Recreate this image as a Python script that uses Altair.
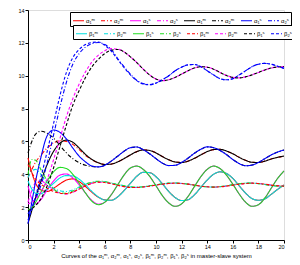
import altair as alt
import pandas as pd

X = [0, 0.3, 0.6, 1, 1.5, 2, 2.5, 3, 3.5, 4, 4.5, 5, 5.5, 6, 6.5, 7, 7.5, 8, 8.5, 9, 9.5,
     10, 10.5, 11, 11.5, 12, 12.5, 13, 13.5, 14, 14.5, 15, 15.5, 16, 16.5, 17, 17.5, 18,
     18.5, 19, 19.5, 20]

# alpha curves (legend row 1)
a1_red_solid = [5.0, 4.1, 3.45, 3.05, 2.95, 3.15, 3.42, 3.65, 3.72, 3.55, 3.25, 2.9, 2.6, 2.45, 2.42,
                2.62, 3.0, 3.45, 3.88, 4.12, 4.1, 3.85, 3.42, 2.95, 2.58, 2.4, 2.45, 2.75, 3.2, 3.65,
                4.0, 4.15, 4.05, 3.75, 3.3, 2.85, 2.52, 2.42, 2.5, 2.78, 3.08, 3.35]
a2_red_dashdot = [3.8, 4.3, 4.75, 5.15, 5.6, 5.9, 6.05, 6.0, 5.82, 5.5, 5.15, 4.88, 4.7, 4.6, 4.62,
                  4.75, 4.95, 5.18, 5.38, 5.48, 5.45, 5.3, 5.08, 4.88, 4.75, 4.72, 4.8, 4.97, 5.18,
                  5.38, 5.5, 5.52, 5.42, 5.25, 5.03, 4.85, 4.73, 4.72, 4.8, 4.93, 5.03, 5.11]
a3_magenta_solid = [3.3, 2.5, 2.2, 2.45, 3.05, 3.6, 3.95, 4.02, 3.78, 3.35, 2.85, 2.4, 2.18, 2.3, 2.75,
                    3.35, 3.95, 4.38, 4.5, 4.3, 3.88, 3.3, 2.7, 2.25, 2.05, 2.2, 2.65, 3.25, 3.85,
                    4.3, 4.5, 4.35, 3.95, 3.4, 2.8, 2.3, 2.05, 2.15, 2.55, 3.15, 3.75, 4.2]
a4_magenta_dashdot = [2.3, 3.0, 3.5, 3.6, 3.35, 3.05, 2.85, 2.8, 2.9, 3.1, 3.3, 3.45, 3.52, 3.5, 3.43,
                      3.33, 3.25, 3.2, 3.2, 3.23, 3.28, 3.34, 3.4, 3.44, 3.46, 3.44, 3.4, 3.34, 3.28,
                      3.24, 3.22, 3.24, 3.28, 3.34, 3.4, 3.44, 3.46, 3.44, 3.4, 3.34, 3.3, 3.28]
a5_black_solid = [1.0, 1.8, 2.6, 3.55, 4.6, 5.4, 5.9, 6.08, 5.95, 5.6, 5.2, 4.9, 4.7, 4.6, 4.62,
                  4.75, 4.95, 5.18, 5.38, 5.48, 5.45, 5.3, 5.08, 4.88, 4.75, 4.72, 4.8, 4.97, 5.18,
                  5.38, 5.5, 5.52, 5.42, 5.25, 5.03, 4.85, 4.73, 4.72, 4.8, 4.93, 5.03, 5.11]
a6_black_dashdot = [5.3, 6.0, 6.45, 6.62, 6.5, 6.2, 5.75, 5.3, 4.95, 4.7, 4.55, 4.47, 4.45, 4.55, 4.8,
                    5.1, 5.4, 5.62, 5.66, 5.5, 5.25, 4.95, 4.68, 4.53, 4.55, 4.72, 4.98, 5.28, 5.52,
                    5.67, 5.62, 5.45, 5.2, 4.9, 4.65, 4.52, 4.56, 4.72, 4.95, 5.18, 5.35, 5.48]
a7_blue_solid = [1.0, 2.3, 3.6, 5.0, 6.35, 6.7, 6.55, 6.15, 5.6, 5.1, 4.75, 4.5, 4.45, 4.55, 4.8,
                 5.1, 5.4, 5.62, 5.66, 5.5, 5.25, 4.95, 4.68, 4.53, 4.55, 4.72, 4.98, 5.28, 5.52,
                 5.67, 5.62, 5.45, 5.2, 4.9, 4.65, 4.52, 4.56, 4.72, 4.95, 5.18, 5.35, 5.48]
a8_blue_dashdot = [1.6, 2.0, 2.5, 3.3, 4.7, 6.4, 8.1, 9.6, 10.7, 11.35, 11.75, 11.95, 12.02, 11.9, 11.6,
                   11.05, 10.55, 10.1, 9.72, 9.52, 9.46, 9.55, 9.75, 10.0, 10.3, 10.52, 10.66, 10.68,
                   10.55, 10.3, 10.05, 9.82, 9.75, 9.82, 10.05, 10.3, 10.55, 10.7, 10.75, 10.7, 10.58, 10.45]

# beta curves (legend row 2)
b1_cyan_solid = [3.6, 3.1, 2.85, 2.82, 3.1, 3.45, 3.78, 3.92, 3.9, 3.7, 3.35, 2.95, 2.62, 2.43, 2.42,
                 2.62, 3.0, 3.45, 3.88, 4.12, 4.1, 3.85, 3.42, 2.95, 2.58, 2.4, 2.45, 2.75, 3.2, 3.65,
                 4.0, 4.15, 4.05, 3.75, 3.3, 2.85, 2.52, 2.42, 2.5, 2.78, 3.08, 3.35]
b2_cyan_dashdot = [3.8, 4.2, 4.3, 4.0, 3.5, 3.15, 3.0, 2.95, 3.05, 3.22, 3.4, 3.5, 3.56, 3.55, 3.47,
                   3.38, 3.3, 3.24, 3.22, 3.24, 3.3, 3.36, 3.42, 3.46, 3.47, 3.45, 3.4, 3.33, 3.27,
                   3.23, 3.22, 3.25, 3.3, 3.37, 3.42, 3.46, 3.46, 3.43, 3.38, 3.32, 3.28, 3.26]
b3_green_solid = [1.85, 1.95, 2.3, 2.9, 3.6, 4.15, 4.42, 4.35, 4.0, 3.45, 2.85, 2.35, 2.15, 2.3, 2.75,
                  3.35, 3.95, 4.38, 4.5, 4.3, 3.88, 3.3, 2.7, 2.25, 2.05, 2.2, 2.65, 3.25, 3.85,
                  4.3, 4.5, 4.35, 3.95, 3.4, 2.8, 2.3, 2.05, 2.15, 2.55, 3.15, 3.75, 4.2]
b4_green_dashdot = [4.0, 4.9, 4.85, 4.3, 3.6, 3.1, 2.88, 2.85, 2.98, 3.2, 3.4, 3.52, 3.58, 3.55, 3.47,
                    3.38, 3.3, 3.24, 3.22, 3.24, 3.3, 3.36, 3.42, 3.46, 3.47, 3.45, 3.4, 3.33, 3.27,
                    3.23, 3.22, 3.25, 3.3, 3.37, 3.42, 3.46, 3.46, 3.43, 3.38, 3.32, 3.28, 3.26]
b5_red_dashed = [4.6, 4.1, 3.7, 3.4, 3.15, 2.95, 2.85, 2.82, 2.92, 3.1, 3.3, 3.45, 3.52, 3.5, 3.43,
                 3.33, 3.25, 3.2, 3.2, 3.23, 3.28, 3.34, 3.4, 3.44, 3.46, 3.44, 3.4, 3.34, 3.28,
                 3.24, 3.22, 3.24, 3.28, 3.34, 3.4, 3.44, 3.46, 3.44, 3.4, 3.34, 3.3, 3.28]
b6_magenta_dashed = [2.2, 2.3, 2.5, 2.9, 3.7, 4.9, 6.2, 7.5, 8.6, 9.5, 10.25, 10.85, 11.25, 11.52, 11.65,
                     11.62, 11.45, 11.15, 10.8, 10.4, 10.05, 9.8, 9.7, 9.75, 9.9, 10.1, 10.3, 10.47,
                     10.55, 10.52, 10.4, 10.2, 10.02, 9.9, 9.87, 9.93, 10.05, 10.2, 10.35, 10.47, 10.53, 10.56]
b7_black_dashed = [1.8, 1.9, 2.1, 2.5, 3.3, 4.4, 5.7, 7.0, 8.2, 9.1, 9.9, 10.55, 11.0, 11.35, 11.55,
                   11.6, 11.45, 11.15, 10.8, 10.4, 10.05, 9.8, 9.7, 9.75, 9.9, 10.1, 10.3, 10.47,
                   10.55, 10.52, 10.4, 10.2, 10.02, 9.9, 9.87, 9.93, 10.05, 10.2, 10.35, 10.47, 10.53, 10.56]
b8_blue_dashed = [1.2, 1.9, 2.7, 3.8, 5.4, 7.1, 8.8, 10.2, 11.1, 11.6, 11.9, 12.02, 12.05, 11.85, 11.5,
                  11.0, 10.5, 10.05, 9.7, 9.5, 9.45, 9.55, 9.75, 10.0, 10.3, 10.52, 10.66, 10.68,
                  10.55, 10.3, 10.05, 9.82, 9.75, 9.82, 10.05, 10.3, 10.55, 10.7, 10.75, 10.7, 10.58, 10.45]

alpha_keys = ["a1", "a2", "a3", "a4", "a5", "a6", "a7", "a8"]
alpha_series = [a1_red_solid, a2_red_dashdot, a3_magenta_solid, a4_magenta_dashdot,
                a5_black_solid, a6_black_dashdot, a7_blue_solid, a8_blue_dashdot]
alpha_labels = ["α₁ᵐ", "α₂ᵐ", "α₁ˢ", "α₂ˢ", "α₁ᵐ", "α₂ᵐ", "α₁ˢ", "α₂ˢ"]
beta_keys = ["b1", "b2", "b3", "b4", "b5", "b6", "b7", "b8"]
beta_series = [b1_cyan_solid, b2_cyan_dashdot, b3_green_solid, b4_green_dashdot,
               b5_red_dashed, b6_magenta_dashed, b7_black_dashed, b8_blue_dashed]
beta_labels = ["β₁ᵐ", "β₂ᵐ", "β₁ˢ", "β₂ˢ", "β₁ᵐ", "β₂ᵐ", "β₁ˢ", "β₂ˢ"]

RED, MAG, BLK, BLU, CYA, GRN = "#ff0000", "#ff00ff", "#000000", "#0000ff", "#00e0e0", "#22dd22"
SOLID, DASHDOT, DASHED = [1, 0], [4, 2, 1, 2], [3, 2]
alpha_colors = [RED, RED, MAG, MAG, BLK, BLK, BLU, BLU]
alpha_dashes = [SOLID, DASHDOT, SOLID, DASHDOT, SOLID, DASHDOT, SOLID, DASHDOT]
beta_colors = [CYA, CYA, GRN, GRN, RED, MAG, BLK, BLU]
beta_dashes = [SOLID, DASHDOT, SOLID, DASHDOT, DASHED, DASHED, DASHED, DASHED]


def long(keys, series, field):
    rows = []
    for k, s in zip(keys, series):
        for i, (x, y) in enumerate(zip(X, s)):
            rows.append({"x": x, "y": y, field: k, "order": i})
    return pd.DataFrame(rows)


da = long(alpha_keys, alpha_series, "ka")
db = long(beta_keys, beta_series, "kb")

FONT = "Liberation Sans"
caption = "Curves of the α₁ᵐ, α₂ᵐ, α₁ˢ, α₂ˢ, β₁ᵐ, β₂ᵐ, β₁ˢ, β₂ˢ in master-slave system"

xenc = alt.X("x:Q", scale=alt.Scale(domain=[0, 20], nice=False),
             axis=alt.Axis(values=list(range(0, 21, 2)), title=caption, grid=False,
                           labelFontSize=5.5, titleFontSize=6, titleFontWeight="normal",
                           titlePadding=3, tickSize=3, labelPadding=1, domainColor="black",
                           tickColor="black", labelColor="black", titleColor="black"))
yenc = alt.Y("y:Q", scale=alt.Scale(domain=[0, 14], nice=False),
             axis=alt.Axis(values=list(range(0, 15, 2)), title=None, grid=False,
                           labelFontSize=5.5, tickSize=3, labelPadding=1, domainColor="black",
                           tickColor="black", labelColor="black"))


def label_expr(keys, labels):
    ks = "[" + ",".join("'%s'" % k for k in keys) + "]"
    ls = "[" + ",".join("'%s'" % l for l in labels) + "]"
    return "%s[indexof(%s, datum.label)]" % (ls, ks)


def legend(keys, labels, lx, ly):
    return alt.Legend(orient="none", legendX=lx, legendY=ly, direction="horizontal",
                      columns=8, title=None, symbolType="stroke", symbolSize=121,
                      symbolStrokeWidth=1.2, labelFontSize=6, labelOffset=1,
                      columnPadding=3, rowPadding=0, padding=2, strokeColor="black",
                      fillColor="white", labelExpr=label_expr(keys, labels))


la = alt.Chart(da).mark_line(strokeWidth=1.1, interpolate="monotone").encode(
    x=xenc, y=yenc, order="order:Q",
    color=alt.Color("ka:N", scale=alt.Scale(domain=alpha_keys, range=alpha_colors),
                    legend=legend(alpha_keys, alpha_labels, 42, 2)),
    strokeDash=alt.StrokeDash("ka:N", scale=alt.Scale(domain=alpha_keys, range=alpha_dashes),
                              legend=legend(alpha_keys, alpha_labels, 42, 2)),
)
lb = alt.Chart(db).mark_line(strokeWidth=1.1, interpolate="monotone").encode(
    x=xenc, y=yenc, order="order:Q",
    color=alt.Color("kb:N", scale=alt.Scale(domain=beta_keys, range=beta_colors),
                    legend=legend(beta_keys, beta_labels, 45, 15)),
    strokeDash=alt.StrokeDash("kb:N", scale=alt.Scale(domain=beta_keys, range=beta_dashes),
                              legend=legend(beta_keys, beta_labels, 45, 15)),
)

chart = alt.layer(la, lb).resolve_scale(color="independent", strokeDash="independent").properties(
    width=256, height=230,
    autosize=alt.AutoSizeParams(type="none"),
    padding={"left": 20, "top": 2, "right": 8, "bottom": 20},
).configure_view(stroke=None).configure(font=FONT, background="white")

chart.save("out.html", embed_options={"renderer": "svg", "actions": False})
